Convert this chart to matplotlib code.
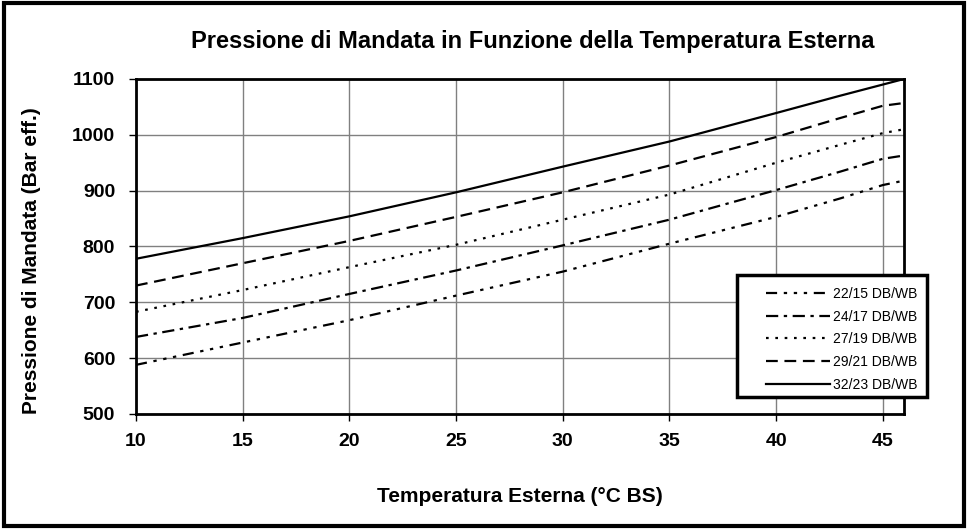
import matplotlib.pyplot as plt
from matplotlib.patches import Rectangle

# Dati
temp = [10, 15, 20, 25, 30, 35, 40, 43, 45, 46]
p_22_15 = [588, 628, 668, 712, 755, 805, 853, 886, 910, 918]
p_24_17 = [638, 672, 715, 757, 802, 848, 901, 934, 957, 963]
p_27_19 = [683, 722, 763, 803, 848, 893, 950, 982, 1003, 1010]
p_29_21 = [730, 770, 810, 853, 897, 945, 996, 1030, 1052, 1057]
p_32_23 = [778, 815, 854, 897, 943, 988, 1039, 1070, 1090, 1100]

labels = ["22/15 DB/WB", "24/17 DB/WB", "27/19 DB/WB", "29/21 DB/WB", "32/23 DB/WB"]
series = [p_22_15, p_24_17, p_27_19, p_29_21, p_32_23]
styles = [(0, (5, 3, 1.5, 3, 1.5, 3, 1.5, 3)), (0, (5.5, 2.5, 1.5, 2.5)),
          (0, (1.2, 3)), (0, (5.3, 3)), '-']

plt.rcParams['font.family'] = ['Liberation Sans', 'DejaVu Sans']

fig = plt.figure(figsize=(9.68, 5.29), dpi=100)
ax = fig.add_axes([0.1405, 0.2174, 0.7935, 0.6333])

for y, lab, ls in zip(series, labels, styles):
    ax.plot(temp, y, color='black', linestyle=ls, linewidth=1.6, label=lab)

ax.set_xlim(10, 46)
ax.set_ylim(500, 1100)
ax.set_xticks(range(10, 46, 5))
ax.set_yticks(range(500, 1101, 100))
ax.grid(True, color='#808080', linewidth=1)
ax.set_axisbelow(True)
for s in ax.spines.values():
    s.set_linewidth(2)
ax.tick_params(direction='out', length=5, width=1, labelsize=14)
ax.tick_params(axis='x', pad=9)
ax.tick_params(axis='y', pad=10)
for t in ax.get_xticklabels() + ax.get_yticklabels():
    t.set_fontweight('bold')

title = fig.text(0.55, 0.922, "Pressione di Mandata in Funzione della Temperatura Esterna",
                 ha='center', va='center', fontsize=16, fontweight='bold')
fig.text(0.537, 0.062, "Temperatura Esterna (°C BS)", ha='center', va='center',
         fontsize=15, fontweight='bold')
fig.text(0.033, 0.508, "Pressione di Mandata (Bar eff.)", ha='center', va='center',
         rotation=90, fontsize=15, fontweight='bold')

# adatta la larghezza del titolo (circa 681 px)
fig.canvas.draw()
w = title.get_window_extent().width
title.set_fontsize(16 * 681 / w)

# legenda con riquadro disegnato a mano
box = Rectangle((737 / 968, 1 - 397 / 529), 190 / 968, 122 / 529, transform=fig.transFigure,
                facecolor='white', edgecolor='black', linewidth=2.5, zorder=4, clip_on=False)
ax.add_patch(box)
leg = ax.legend(loc='upper left', bbox_to_anchor=(755 / 968, 1 - 276 / 529),
                bbox_transform=fig.transFigure, fontsize=10, frameon=False,
                handlelength=4.6, handletextpad=0.2, borderpad=0.3, labelspacing=0.62)
leg.set_zorder(5)

# cornice esterna
fig.patches.append(Rectangle((0.004, 0.006), 0.992, 0.988, transform=fig.transFigure,
                             fill=False, edgecolor='black', linewidth=3))

fig.savefig("out.png", dpi=100)
